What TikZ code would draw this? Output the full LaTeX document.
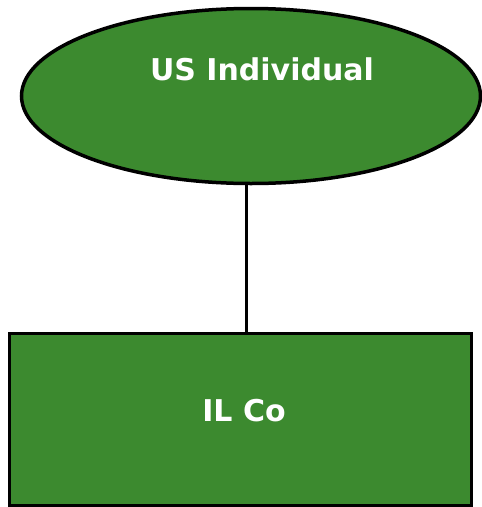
\documentclass[tikz,border=0pt]{standalone}
\usepackage{fontspec}
\setmainfont{DejaVu Sans}
\usetikzlibrary{shapes.geometric,calc}
\definecolor{entitygreen}{HTML}{3C8A2F}
\tikzset{
  entity/.style={draw=black, line width=3.5pt, fill=entitygreen, inner sep=0pt},
  entitytext/.style={text=white, font=\bfseries\fontsize{30}{35}\selectfont, anchor=base, inner sep=0pt},
  link/.style={draw=black, line width=3pt}
}
\begin{document}
\begin{tikzpicture}[x=1pt,y=-1pt]
  \useasboundingbox (0,0) rectangle (482,507);
  % owner (ellipse) and owned company (box)
  \node[entity, ellipse, minimum width=459pt, minimum height=175pt] (owner) at (251,96) {};
  \node[entity, rectangle, minimum width=462pt, minimum height=172pt] (company) at (240.5,419.5) {};
  \node[entitytext] (ownername) at (262,80) {US Individual};
  \node[entitytext] (companyname) at (244,421) {IL Co};
  % ownership link
  \coordinate (tap) at ($(owner.south)+(-5,0)$);
  \draw[link] (tap) -- (tap |- company.north);
\end{tikzpicture}
\end{document}
